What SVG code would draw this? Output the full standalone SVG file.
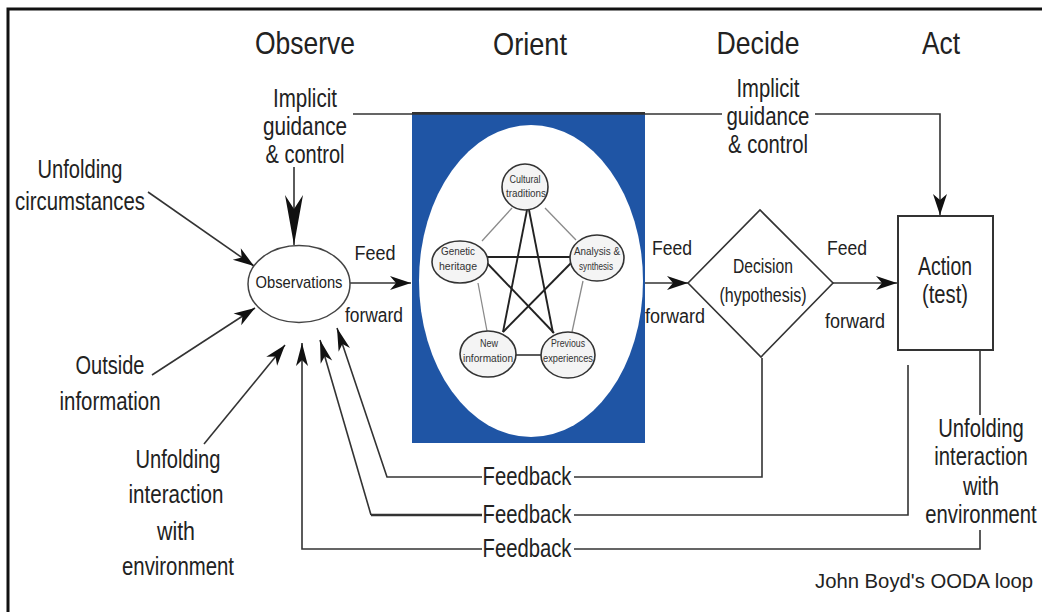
<svg xmlns="http://www.w3.org/2000/svg" width="1042" height="612" viewBox="0 0 1042 612">
<defs>
<style>
text{font-family:"Liberation Sans",Arial,sans-serif;fill:#222;text-anchor:middle;}
.title{font-size:32px;}
.lbl{font-size:25px;}
.mid{font-size:20px;}
.sm{font-size:10px;fill:#333;}
.ln{fill:none;stroke:#333;stroke-width:1.6;}
.thin{stroke:#8a8a8a;stroke-width:1.3;}
.dark{stroke:#222;stroke-width:1.9;}
.node{fill:#f4f4f4;stroke:#333;stroke-width:1.6;}
</style>
<marker id="ah" viewBox="-22 -8 24 16" refX="0" refY="0" markerWidth="24" markerHeight="16" markerUnits="userSpaceOnUse" orient="auto">
<path d="M0,0 L-21,-7 L-15,0 L-21,7 Z" fill="#111"/>
</marker>
<marker id="ahs" viewBox="-24 -8 26 16" refX="0" refY="0" markerWidth="26" markerHeight="16" markerUnits="userSpaceOnUse" orient="auto">
<path d="M0,0 L-23,-6 L-17,0 L-23,6 Z" fill="#111"/>
</marker>
<marker id="ahb" viewBox="-52 -11 54 22" refX="0" refY="0" markerWidth="54" markerHeight="22" markerUnits="userSpaceOnUse" orient="auto">
<path d="M0,0 L-50,-9 L-36,0 L-50,9 Z" fill="#111"/>
</marker>
</defs>
<rect width="1042" height="612" fill="#fff"/>
<g id="frame"><path d="M8,612 V9 H1042" fill="none" stroke="#111" stroke-width="3"/></g>

<g id="titles">
<text class="title" x="305" y="54" textLength="100" lengthAdjust="spacingAndGlyphs">Observe</text>
<text class="title" x="530" y="55" textLength="74" lengthAdjust="spacingAndGlyphs">Orient</text>
<text class="title" x="758" y="54" textLength="83" lengthAdjust="spacingAndGlyphs">Decide</text>
<text class="title" x="941" y="54" textLength="38" lengthAdjust="spacingAndGlyphs">Act</text>
</g>

<g id="orient">
<rect x="412" y="113" width="233" height="330" fill="#1f55a5"/>
<line x1="412" y1="113" x2="645" y2="113" stroke="#333" stroke-width="2"/>
<ellipse cx="531" cy="281" rx="112" ry="156" fill="#fff"/>
<g id="orient-links">
<line class="ln thin" x1="512" y1="208" x2="482" y2="241"/>
<line class="ln thin" x1="545" y1="208" x2="576" y2="240"/>
<line class="ln thin" x1="478" y1="283" x2="487" y2="331"/>
<line class="ln thin" x1="583" y1="281" x2="572" y2="332"/>
<line class="ln" stroke="#777" stroke-width="2" x1="514" y1="355" x2="542" y2="355"/>
<line class="ln dark" x1="487" y1="257" x2="570" y2="257"/>
<line class="ln dark" x1="527" y1="210" x2="503" y2="332"/>
<line class="ln dark" x1="529" y1="210" x2="553" y2="333"/>
<line class="ln dark" x1="486" y1="262" x2="554" y2="333"/>
<line class="ln dark" x1="572" y1="262" x2="503" y2="332"/>
</g>
<g id="n-cultural"><ellipse class="node" cx="525" cy="187" rx="23" ry="23"/>
<text class="sm" x="525" y="183" textLength="31" lengthAdjust="spacingAndGlyphs">Cultural</text>
<text class="sm" x="526" y="197" textLength="40" lengthAdjust="spacingAndGlyphs">traditions</text></g>
<g id="n-genetic"><ellipse class="node" cx="460" cy="262" rx="28" ry="21"/>
<text class="sm" x="458" y="255" textLength="34" lengthAdjust="spacingAndGlyphs">Genetic</text>
<text class="sm" x="458" y="270" textLength="38" lengthAdjust="spacingAndGlyphs">heritage</text></g>
<g id="n-analysis"><ellipse class="node" cx="597" cy="258" rx="27" ry="23"/>
<text class="sm" x="597" y="255" textLength="46" lengthAdjust="spacingAndGlyphs">Analysis &amp;</text>
<text class="sm" x="596" y="270" textLength="34" lengthAdjust="spacingAndGlyphs">synthesis</text></g>
<g id="n-new"><ellipse class="node" cx="488" cy="354" rx="28" ry="23"/>
<text class="sm" x="489" y="347" textLength="18" lengthAdjust="spacingAndGlyphs">New</text>
<text class="sm" x="488" y="362" textLength="50" lengthAdjust="spacingAndGlyphs">information</text></g>
<g id="n-previous"><ellipse class="node" cx="568" cy="355" rx="27" ry="23"/>
<text class="sm" x="568" y="347" textLength="34" lengthAdjust="spacingAndGlyphs">Previous</text>
<text class="sm" x="568" y="362" textLength="50" lengthAdjust="spacingAndGlyphs">experiences</text></g>
</g>

<g id="connectors" class="ln">
<path d="M353,114 H722 M815,114 H940 V215" marker-end="url(#ah)"/>
<path d="M294,167 V245" marker-end="url(#ahb)"/>
<path d="M148,192 L254,266" marker-end="url(#ah)"/>
<path d="M152,375 L255,308" marker-end="url(#ah)"/>
<path d="M204,444 L285,345" marker-end="url(#ah)"/>
<path d="M350,283 H411" marker-end="url(#ah)"/>
<path d="M645,283 H688" marker-end="url(#ah)"/>
<path d="M833,283 H897" marker-end="url(#ah)"/>
<path d="M574,477 H762 V358"/>
<path d="M482,477 H387 L337,328" marker-end="url(#ahs)"/>
<path d="M574,515 H908 V365"/>
<path d="M482,515 H371" stroke-width="2.4"/>
<path d="M371,515 L320,340" marker-end="url(#ahs)"/>
<path d="M574,549 H980 V530 M980,415 V350"/>
<path d="M482,549 H302 V343" marker-end="url(#ahs)"/>
</g>

<g id="observations">
<ellipse cx="299" cy="284" rx="51" ry="38.5" fill="#fff" stroke="#444" stroke-width="1.5"/>
<text x="299" y="288" font-size="17" textLength="87" lengthAdjust="spacingAndGlyphs">Observations</text>
</g>

<g id="decision">
<polygon points="688,283 760,210 833,283 761,357" fill="#fff" stroke="#333" stroke-width="1.6"/>
<text class="mid" x="763" y="273" font-size="19" textLength="60" lengthAdjust="spacingAndGlyphs">Decision</text>
<text class="mid" x="763" y="302" font-size="19" textLength="87" lengthAdjust="spacingAndGlyphs">(hypothesis)</text>
</g>

<g id="action">
<rect x="898" y="216" width="95" height="134" fill="#fff" stroke="#333" stroke-width="2"/>
<text class="lbl" x="945" y="275" textLength="54" lengthAdjust="spacingAndGlyphs">Action</text>
<text class="lbl" x="945" y="303" textLength="46" lengthAdjust="spacingAndGlyphs">(test)</text>
</g>

<g id="labels">
<text class="lbl" x="305" y="107" textLength="64" lengthAdjust="spacingAndGlyphs">Implicit</text>
<text class="lbl" x="305" y="135" textLength="84" lengthAdjust="spacingAndGlyphs">guidance</text>
<text class="lbl" x="305" y="163" textLength="79" lengthAdjust="spacingAndGlyphs">&amp; control</text>

<text class="lbl" x="768" y="97" textLength="63" lengthAdjust="spacingAndGlyphs">Implicit</text>
<text class="lbl" x="768" y="125" textLength="83" lengthAdjust="spacingAndGlyphs">guidance</text>
<text class="lbl" x="768" y="153" textLength="80" lengthAdjust="spacingAndGlyphs">&amp; control</text>

<text class="lbl" x="80" y="178" textLength="85" lengthAdjust="spacingAndGlyphs">Unfolding</text>
<text class="lbl" x="80" y="210" textLength="130" lengthAdjust="spacingAndGlyphs">circumstances</text>

<text class="lbl" x="110" y="374" textLength="69" lengthAdjust="spacingAndGlyphs">Outside</text>
<text class="lbl" x="110" y="410" textLength="101" lengthAdjust="spacingAndGlyphs">information</text>

<text class="lbl" x="178" y="468" textLength="85" lengthAdjust="spacingAndGlyphs">Unfolding</text>
<text class="lbl" x="176" y="503" textLength="95" lengthAdjust="spacingAndGlyphs">interaction</text>
<text class="lbl" x="176" y="540" textLength="38" lengthAdjust="spacingAndGlyphs">with</text>
<text class="lbl" x="178" y="575" textLength="112" lengthAdjust="spacingAndGlyphs">environment</text>

<g transform="translate(981 0) scale(0.81 1)">
<text class="lbl" x="0" y="437">Unfolding</text>
<text class="lbl" x="0" y="465">interaction</text>
<text class="lbl" x="0" y="495">with</text>
<text class="lbl" x="0" y="523">environment</text>
</g>

<text class="mid" x="375" y="260" font-size="22" textLength="41" lengthAdjust="spacingAndGlyphs">Feed</text>
<text class="mid" x="374" y="322" font-size="22" textLength="58" lengthAdjust="spacingAndGlyphs">forward</text>
<text class="mid" x="672" y="255" font-size="22" textLength="40" lengthAdjust="spacingAndGlyphs">Feed</text>
<text class="mid" x="675" y="323" font-size="22" textLength="60" lengthAdjust="spacingAndGlyphs">forward</text>
<text class="mid" x="847" y="255" font-size="22" textLength="40" lengthAdjust="spacingAndGlyphs">Feed</text>
<text class="mid" x="855" y="328" font-size="22" textLength="60" lengthAdjust="spacingAndGlyphs">forward</text>

<text class="lbl" x="527" y="485" textLength="89" lengthAdjust="spacingAndGlyphs">Feedback</text>
<text class="lbl" x="527" y="523" textLength="89" lengthAdjust="spacingAndGlyphs">Feedback</text>
<text class="lbl" x="527" y="557" textLength="89" lengthAdjust="spacingAndGlyphs">Feedback</text>

<text x="924" y="588" font-size="21" textLength="218" lengthAdjust="spacingAndGlyphs">John Boyd's OODA loop</text>
</g>
</svg>
